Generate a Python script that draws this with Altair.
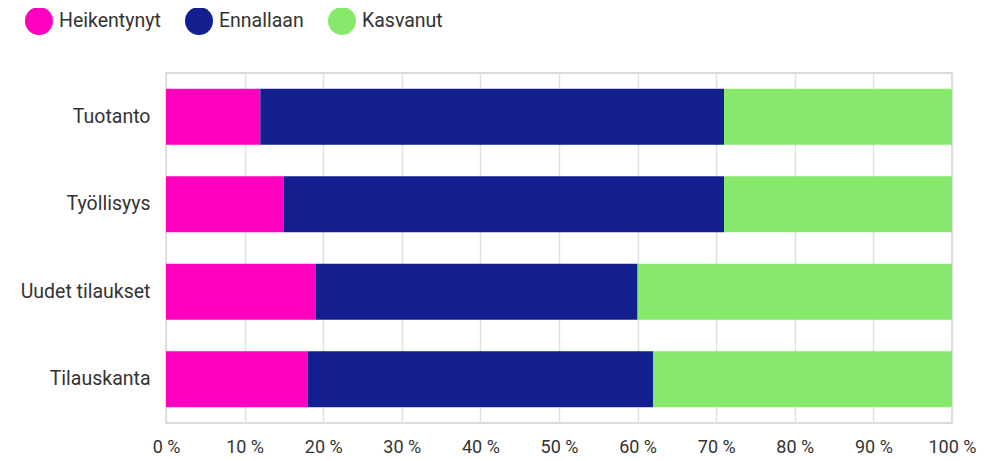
import altair as alt
import pandas as pd

categories = ["Tuotanto", "Työllisyys", "Uudet tilaukset", "Tilauskanta"]
series = ["Heikentynyt", "Ennallaan", "Kasvanut"]
heikentynyt = [12, 15, 19, 18]
ennallaan = [59, 56, 41, 44]
kasvanut = [29, 29, 40, 38]
colors = ["#FF00BF", "#141F8F", "#87E96B"]
x_ticks = [0, 10, 20, 30, 40, 50, 60, 70, 80, 90, 100]

rows = []
for i, c in enumerate(categories):
    for j, (s, vals) in enumerate(zip(series, [heikentynyt, ennallaan, kasvanut])):
        rows.append({"kategoria": c, "sarja": s, "arvo": vals[i], "jarj": j})
df = pd.DataFrame(rows)

FONT = "Roboto"
TXT = "#333333"

chart = alt.Chart(df).mark_bar().encode(
    y=alt.Y("kategoria:N", sort=categories, title=None,
            scale=alt.Scale(paddingInner=0.36, paddingOuter=0.18),
            axis=alt.Axis(ticks=False, domain=False, labelFont=FONT, labelFontSize=19.5,
                          labelColor=TXT, labelPadding=16, grid=False)),
    x=alt.X("arvo:Q", stack="zero", title=None,
            scale=alt.Scale(domain=[0, 100], nice=False),
            axis=alt.Axis(values=x_ticks, labelExpr="datum.value + ' %'", ticks=False,
                          domain=False, grid=True, gridColor="#dde2e8", gridWidth=1.5,
                          labelFont=FONT, labelFontSize=18, labelColor=TXT,
                          labelPadding=15, labelFlush=False)),
    color=alt.Color("sarja:N", sort=series,
                    scale=alt.Scale(domain=series, range=colors),
                    legend=alt.Legend(title=None, orient="none", direction="horizontal",
                                      legendX=-141, legendY=-66, symbolType="circle",
                                      symbolSize=784, symbolStrokeWidth=0,
                                      labelFont=FONT, labelFontSize=19.5, labelColor=TXT,
                                      labelOffset=6, columnPadding=24)),
    order=alt.Order("jarj:Q"),
).properties(
    width=786, height=350,
    autosize=alt.AutoSizeParams(type="none"),
    padding={"left": 158, "top": 65, "right": 30, "bottom": 37},
).configure_view(stroke="#d0d0d0", strokeWidth=1.5)

chart.save("out.html", embed_options={"renderer": "svg", "actions": False})
